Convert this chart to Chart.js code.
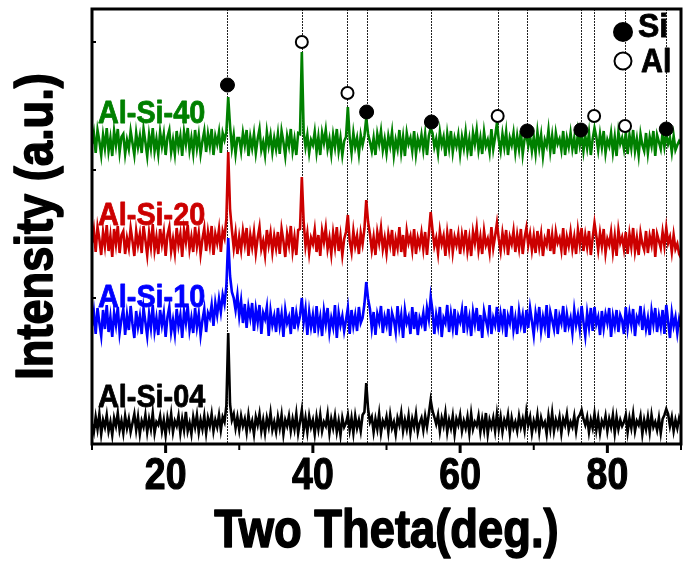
<!DOCTYPE html>
<html>
<head>
<meta charset="utf-8">
<title>XRD Al-Si</title>
<script src="https://cdn.jsdelivr.net/npm/chart.js@4.4.0/dist/chart.umd.min.js"></script>
<style>
    html, body { margin: 0; padding: 0; background: #fff; }
    #wrap { width: 689px; height: 563px; }
</style>
</head>
<body>
<div id="wrap"><canvas id="xrdChart" width="689" height="563"></canvas></div>
<script>
// Two theta sampled every 0.25 deg from 10 to 90
const thetaStart = 10;
const thetaStep = 0.25;

// Intensities (a.u.), one value per step
const alSi04 = [
    20, 12, 27, 15, 30, 10, 24, 17, 29, 13, 22, 9, 26, 18, 31, 14, 23, 11, 28, 16,
    25, 12, 21, 30, 14, 27, 10, 23, 17, 29, 12, 25, 15, 31, 11, 22, 19, 28, 13, 24,
    9, 26, 16, 30, 12, 23, 18, 28, 11, 25, 14, 32, 13, 21, 10, 27, 17, 29, 12, 24,
    15, 28, 11, 26, 18, 30, 13, 24, 17, 29, 14, 27, 22, 38, 111, 40, 24, 30, 16, 27,
    14, 28, 18, 25, 12, 29, 16, 23, 10, 27, 19, 30, 13, 24, 11, 26, 17, 31, 14, 22,
    12, 27, 16, 29, 10, 24, 18, 28, 13, 25, 15, 30, 11, 22, 34, 14, 26, 12, 28, 17,
    24, 10, 27, 15, 29, 13, 22, 18, 30, 11, 25, 16, 28, 12, 23, 9, 26, 17, 21, 29,
    14, 26, 11, 28, 16, 24, 13, 29, 32, 61, 35, 22, 27, 12, 25, 15, 30, 11, 23, 18,
    27, 12, 29, 16, 22, 10, 26, 19, 31, 13, 24, 15, 28, 11, 25, 17, 30, 12, 21, 26,
    14, 28, 17, 30, 44, 33, 27, 20, 29, 13, 26, 18, 31, 12, 24, 16, 28, 10, 25, 19,
    29, 13, 23, 16, 27, 11, 30, 15, 22, 18, 28, 12, 25, 14, 31, 10, 24, 17, 26, 13,
    30, 15, 27, 12, 24, 18, 29, 11, 26, 16, 22, 13, 28, 17, 25, 14, 32, 19, 27, 11,
    23, 16, 29, 12, 26, 18, 22, 10, 28, 15, 31, 13, 24, 17, 27, 11, 25, 19, 30, 14,
    22, 17, 28, 13, 26, 29, 34, 25, 19, 27, 12, 24, 16, 30, 14, 26, 11, 23, 18, 28,
    13, 25, 17, 29, 11, 27, 15, 24, 18, 22, 29, 12, 26, 16, 30, 13, 23, 19, 28, 10,
    24, 15, 27, 12, 29, 17, 22, 14, 26, 11, 25, 29, 35, 30, 18, 27, 13, 24, 16, 26,
    20
];

const alSi10 = [
    118, 132, 110, 136, 121, 108, 134, 115, 139, 112, 127, 107, 131, 119, 137, 111, 125, 135, 109, 129,
    114, 138, 120, 106, 133, 117, 128, 110, 136, 122, 108, 130, 116, 139, 113, 126, 109, 134, 119, 131,
    107, 127, 137, 112, 124, 110, 135, 118, 129, 106, 133, 121, 138, 114, 126, 111, 136, 117, 130, 109,
    124, 135, 112, 131, 126, 139, 118, 141, 129, 145, 132, 149, 140, 158, 206, 168, 152, 146, 134, 149,
    128, 143, 121, 140, 116, 137, 126, 141, 113, 135, 122, 139, 110, 131, 125, 137, 108, 133, 119, 128,
    112, 136, 118, 130, 107, 134, 121, 127, 110, 137, 115, 131, 119, 128, 146, 122, 135, 109, 132, 117,
    129, 111, 138, 116, 127, 108, 133, 120, 136, 112, 126, 117, 139, 106, 131, 119, 128, 113, 124, 136,
    110, 134, 118, 129, 113, 137, 121, 126, 140, 162, 145, 135, 116, 132, 109, 130, 122, 138, 111, 127,
    119, 135, 108, 131, 124, 112, 138, 117, 129, 106, 134, 121, 127, 110, 137, 115, 132, 109, 126, 120,
    131, 113, 136, 125, 147, 133, 110, 129, 118, 137, 107, 126, 121, 139, 112, 130, 116, 135, 109, 128,
    122, 134, 111, 138, 117, 127, 108, 132, 120, 136, 113, 129, 106, 133, 124, 115, 139, 110, 126, 119,
    137, 112, 130, 118, 135, 107, 128, 121, 138, 114, 126, 110, 133, 119, 129, 111, 134, 116, 136, 123,
    109, 131, 120, 137, 113, 127, 117, 139, 106, 132, 124, 115, 135, 110, 128, 121, 138, 112, 130, 118,
    126, 111, 134, 119, 129, 115, 138, 122, 108, 131, 117, 136, 113, 137, 120, 127, 109, 133, 116, 130,
    121, 136, 107, 128, 118, 134, 112, 129, 124, 110, 137, 116, 131, 119, 135, 108, 127, 122, 138, 114,
    130, 115, 126, 109, 133, 120, 136, 112, 128, 117, 134, 110, 139, 123, 106, 131, 118, 127, 111, 125,
    117
];

const alSi20 = [
    201, 214, 192, 217, 205, 189, 212, 198, 219, 193, 208, 187, 215, 200, 218, 191, 209, 213, 190, 206,
    196, 216, 203, 188, 213, 199, 210, 191, 218, 204, 189, 211, 197, 220, 194, 207, 190, 215, 200, 212,
    188, 209, 217, 193, 205, 191, 216, 199, 210, 187, 214, 202, 219, 195, 207, 192, 217, 198, 211, 190,
    205, 216, 193, 212, 199, 218, 189, 210, 201, 215, 192, 213, 206, 225, 292, 235, 214, 196, 211, 190,
    207, 194, 213, 200, 216, 188, 209, 197, 212, 191, 206, 217, 195, 203, 189, 214, 199, 211, 192, 208,
    196, 212, 190, 215, 203, 187, 210, 199, 218, 193, 207, 189, 214, 215, 267, 222, 198, 211, 191, 206,
    200, 214, 192, 209, 188, 213, 202, 216, 195, 206, 190, 211, 197, 217, 193, 208, 189, 205, 212, 229,
    203, 192, 213, 198, 208, 190, 211, 200, 215, 244, 222, 210, 194, 207, 189, 212, 201, 216, 195, 206,
    191, 210, 199, 214, 188, 205, 196, 217, 192, 209, 187, 213, 201, 208, 194, 215, 190, 206, 198, 211,
    195, 212, 189, 210, 232, 214, 198, 206, 191, 213, 200, 208, 188, 211, 196, 215, 192, 207, 199, 210,
    190, 209, 197, 214, 193, 206, 188, 212, 201, 216, 194, 207, 190, 213, 199, 205, 192, 217, 196, 208,
    221, 205, 193, 211, 198, 214, 189, 207, 200, 213, 192, 209, 196, 215, 190, 206, 216, 199, 210, 194,
    208, 191, 213, 197, 210, 188, 205, 199, 215, 193, 209, 190, 212, 201, 206, 194, 216, 189, 207, 198,
    212, 195, 207, 190, 214, 200, 216, 193, 209, 197, 213, 189, 206, 221, 208, 194, 211, 198, 215, 191,
    205, 199, 212, 192, 208, 188, 214, 201, 207, 195, 212, 190, 210, 197, 216, 193, 206, 189, 211, 200,
    194, 213, 191, 208, 199, 215, 187, 210, 203, 196, 212, 198, 216, 201, 207, 192, 209, 195, 200, 190,
    186
];

const alSi40 = [
    300, 311, 291, 314, 303, 289, 309, 296, 316, 293, 306, 288, 313, 299, 315, 292, 307, 310, 290, 304,
    295, 313, 301, 289, 311, 297, 308, 291, 315, 302, 288, 309, 296, 316, 293, 305, 290, 312, 298, 310,
    289, 307, 314, 292, 304, 290, 313, 297, 308, 288, 312, 300, 316, 294, 306, 291, 314, 296, 309, 290,
    303, 313, 292, 310, 298, 315, 289, 308, 300, 312, 291, 311, 304, 312, 347, 318, 296, 309, 290, 306,
    306, 293, 311, 299, 314, 288, 307, 296, 310, 291, 305, 315, 294, 302, 289, 312, 298, 309, 292, 306,
    295, 310, 290, 313, 302, 288, 308, 298, 315, 293, 305, 289, 311, 310, 392, 312, 297, 309, 291, 304,
    299, 312, 292, 307, 289, 311, 301, 314, 295, 305, 290, 309, 297, 315, 293, 306, 289, 303, 307, 337,
    306, 291, 311, 297, 306, 290, 309, 299, 308, 326, 310, 302, 293, 306, 289, 310, 300, 313, 294, 305,
    291, 308, 298, 312, 289, 304, 295, 314, 292, 307, 288, 311, 300, 306, 293, 313, 290, 305, 297, 309,
    294, 310, 289, 308, 316, 311, 297, 305, 291, 312, 299, 307, 288, 310, 296, 313, 292, 306, 298, 309,
    290, 307, 296, 312, 293, 305, 288, 311, 300, 314, 294, 306, 290, 312, 298, 304, 292, 315, 295, 307,
    321, 304, 293, 310, 297, 312, 289, 306, 299, 311, 292, 308, 295, 313, 290, 305, 309, 298, 308, 293,
    307, 291, 312, 296, 309, 288, 304, 298, 314, 293, 308, 290, 311, 300, 305, 294, 313, 289, 306, 297,
    311, 295, 306, 290, 312, 299, 310, 293, 308, 296, 311, 289, 305, 316, 307, 294, 310, 297, 313, 291,
    304, 298, 311, 292, 307, 288, 312, 300, 306, 295, 311, 290, 309, 296, 314, 293, 305, 289, 310, 299,
    293, 311, 291, 307, 298, 313, 288, 309, 302, 295, 311, 297, 310, 300, 306, 292, 308, 294, 299, 303,
    300
];

// Phase markers above the Al-Si-40 pattern
const siPeaks = [28.4, 47.3, 56.1, 69.1, 76.4, 88.0];
const siMarkY = [359, 332, 322, 313, 314, 315];
const alPeaks = [38.5, 44.7, 65.1, 78.2, 82.4];
const alMarkY = [402, 351, 328, 328, 318];

// Reference lines through all peaks
const peakLines = [28.4, 38.5, 44.7, 47.3, 56.1, 65.1, 69.1, 76.4, 78.2, 82.4, 88.0];

const xMajorTicks = [20, 40, 60, 80];
const xMinorTicks = [10, 30, 50, 70, 90];
const yTicks = [17, 146, 274, 402];

const seriesNames = ['Al-Si-40', 'Al-Si-20', 'Al-Si-10', 'Al-Si-04'];
const seriesColors = ['#008000', '#cc0000', '#0000ff', '#000000'];

const FONT = "'Liberation Sans', Arial, Helvetica, sans-serif";

function toPoints(values) {
    return values.map((v, i) => ({ x: thetaStart + i * thetaStep, y: v }));
}

function pairPoints(xs, ys) {
    return xs.map((x, i) => ({ x: x, y: ys[i] }));
}

// Draw heavy text squeezed horizontally, like the narrow bold font of the original
function squeezedText(ctx, text, x, y, size, color, sx, align, weight) {
    ctx.save();
    ctx.font = 'bold ' + size + 'px ' + FONT;
    ctx.fillStyle = color;
    ctx.strokeStyle = color;
    ctx.lineJoin = 'round';
    ctx.lineWidth = weight || 0;
    ctx.textAlign = align || 'left';
    ctx.textBaseline = 'alphabetic';
    ctx.translate(x, y);
    ctx.scale(sx, 1);
    ctx.fillText(text, 0, 0);
    if (weight) ctx.strokeText(text, 0, 0);
    ctx.restore();
}

const decorPlugin = {
    id: 'decor',
    beforeDatasetsDraw(chart) {
        const ctx = chart.ctx;
        const area = chart.chartArea;
        const xs = chart.scales.x;
        ctx.save();
        ctx.strokeStyle = '#222';
        ctx.lineWidth = 1;
        ctx.setLineDash([2, 1]);
        peakLines.forEach(p => {
            const px = Math.round(xs.getPixelForValue(p)) + 0.5;
            ctx.beginPath();
            ctx.moveTo(px, area.top);
            ctx.lineTo(px, area.bottom);
            ctx.stroke();
        });
        ctx.restore();
    },
    afterDraw(chart) {
        const ctx = chart.ctx;
        const area = chart.chartArea;
        const xs = chart.scales.x;
        const ys = chart.scales.y;

        // frame
        ctx.save();
        ctx.strokeStyle = '#000';
        ctx.lineWidth = 3;
        ctx.strokeRect(area.left, area.top, area.right - area.left, area.bottom - area.top);

        // x ticks
        xMajorTicks.forEach(t => {
            const px = xs.getPixelForValue(t);
            ctx.beginPath();
            ctx.moveTo(px, area.bottom);
            ctx.lineTo(px, area.bottom + 9);
            ctx.stroke();
        });
        ctx.lineWidth = 2;
        xMinorTicks.forEach(t => {
            const px = xs.getPixelForValue(t);
            ctx.beginPath();
            ctx.moveTo(px, area.bottom);
            ctx.lineTo(px, area.bottom + 6);
            ctx.stroke();
        });
        // y ticks
        yTicks.forEach(t => {
            const py = ys.getPixelForValue(t);
            ctx.beginPath();
            ctx.moveTo(area.left, py);
            ctx.lineTo(area.left + 4, py);
            ctx.stroke();
        });
        ctx.restore();

        // tick labels
        xMajorTicks.forEach(t => {
            squeezedText(ctx, String(t), xs.getPixelForValue(t), area.bottom + 45, 44, '#000', 0.85, 'center', 1.2);
        });

        // axis titles
        squeezedText(ctx, 'Two Theta(deg.)', (area.left + area.right) / 2, area.bottom + 103, 54, '#000', 0.84, 'center', 1.6);
        ctx.save();
        ctx.translate(52, (area.top + area.bottom) / 2);
        ctx.rotate(-Math.PI / 2);
        squeezedText(ctx, 'Intensity (a.u.)', 0, 0, 52, '#000', 0.87, 'center', 1.6);
        ctx.restore();

        // series labels
        const labelOffsets = [114, 216, 298, 398];
        seriesNames.forEach((name, i) => {
            squeezedText(ctx, name, area.left + 6, area.top + labelOffsets[i], 32, seriesColors[i], 0.9, 'left', 0.8);
        });

        // legend
        const lx = area.right - 58;
        ctx.save();
        ctx.fillStyle = '#000';
        ctx.beginPath();
        ctx.arc(lx, area.top + 23, 10, 0, Math.PI * 2);
        ctx.fill();
        ctx.fillStyle = '#fff';
        ctx.strokeStyle = '#000';
        ctx.lineWidth = 2;
        ctx.beginPath();
        ctx.arc(lx, area.top + 52, 8.5, 0, Math.PI * 2);
        ctx.fill();
        ctx.stroke();
        ctx.restore();
        squeezedText(ctx, 'Si', lx + 15, area.top + 28, 33, '#000', 0.97, 'left', 0.8);
        squeezedText(ctx, 'Al', lx + 18, area.top + 63, 33, '#000', 0.92, 'left', 0.8);
    }
};

const ctx = document.getElementById('xrdChart').getContext('2d');
new Chart(ctx, {
    type: 'line',
    data: {
        datasets: [
            {
                label: 'Si',
                type: 'scatter',
                data: pairPoints(siPeaks, siMarkY),
                pointStyle: 'circle',
                pointRadius: 7,
                pointBackgroundColor: '#000',
                pointBorderColor: '#000',
                pointBorderWidth: 1,
                showLine: false,
                order: 0
            },
            {
                label: 'Al',
                type: 'scatter',
                data: pairPoints(alPeaks, alMarkY),
                pointStyle: 'circle',
                pointRadius: 6,
                pointBackgroundColor: '#fff',
                pointBorderColor: '#000',
                pointBorderWidth: 2,
                showLine: false,
                order: 0
            },
            { label: seriesNames[0], data: toPoints(alSi40), borderColor: seriesColors[0], order: 1 },
            { label: seriesNames[1], data: toPoints(alSi20), borderColor: seriesColors[1], order: 2 },
            { label: seriesNames[2], data: toPoints(alSi10), borderColor: seriesColors[2], order: 3 },
            { label: seriesNames[3], data: toPoints(alSi04), borderColor: seriesColors[3], order: 4 }
        ]
    },
    options: {
        responsive: false,
        animation: false,
        devicePixelRatio: 1,
        layout: { padding: { left: 92, right: 3, top: 9, bottom: 119 } },
        elements: {
            line: { borderWidth: 2.6, tension: 0, fill: false, borderJoinStyle: 'miter' },
            point: { radius: 0, hoverRadius: 0 }
        },
        plugins: {
            legend: { display: false },
            tooltip: { enabled: false },
            title: { display: false }
        },
        scales: {
            x: { type: 'linear', min: 10, max: 90, display: false },
            y: { type: 'linear', min: 0, max: 435, display: false }
        }
    },
    plugins: [decorPlugin]
});
</script>
</body>
</html>
